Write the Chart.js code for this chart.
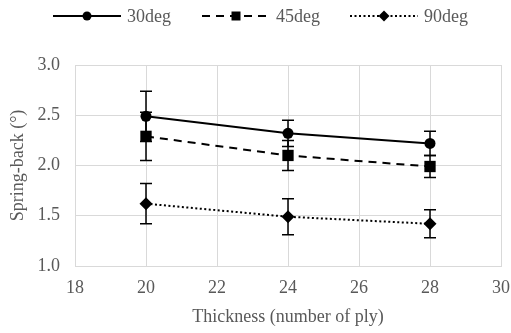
<!DOCTYPE html>
<html>
<head>
<meta charset="utf-8">
<script src="https://cdn.jsdelivr.net/npm/chart.js@4.4.0/dist/chart.umd.min.js"></script>
<style>
  html, body { margin: 0; padding: 0; background: #fff; }
  canvas { display: block; }
</style>
</head>
<body>
<canvas id="chart" width="511" height="333"></canvas>
<script>
// data
var thickness = [20, 24, 28];
var deg30 = [2.49, 2.32, 2.22];
var deg45 = [2.29, 2.10, 1.99];
var deg90 = [1.62, 1.49, 1.42];
var err30 = [0.25, 0.13, 0.12];
var err45 = [0.24, 0.15, 0.11];
var err90 = [0.20, 0.18, 0.14];
var seriesNames = ['30deg', '45deg', '90deg'];
var xTicks = [18, 20, 22, 24, 26, 28, 30];
var yTicks = [1.0, 1.5, 2.0, 2.5, 3.0];

var fontFamily = '"Liberation Serif", "Times New Roman", serif';
var textColor = '#595959';
var gridColor = '#d9d9d9';

function points(ys) {
    return thickness.map(function (x, i) { return { x: x, y: ys[i] }; });
}

var styles = [
    { dash: [], pointStyle: 'circle', radius: 5.5 },
    { dash: [8, 6], pointStyle: 'rect', radius: 8 },
    { dash: [2, 2.5], pointStyle: 'rectRot', radius: 6.5 }
];
var errors = [err30, err45, err90];

var datasets = [deg30, deg45, deg90].map(function (ys, i) {
    return {
        label: seriesNames[i],
        data: points(ys),
        borderColor: '#000',
        backgroundColor: '#000',
        borderWidth: 2,
        borderDash: styles[i].dash,
        pointStyle: styles[i].pointStyle,
        pointRadius: styles[i].radius,
        pointBorderWidth: 0,
        tension: 0,
        fill: false
    };
});

// error bars, drawn from the scales
var errorBars = {
    id: 'errorBars',
    beforeDatasetsDraw: function (chart) {
        var ctx = chart.ctx, xs = chart.scales.x, ys = chart.scales.y;
        ctx.save();
        ctx.strokeStyle = '#000';
        ctx.lineWidth = 1.5;
        ctx.setLineDash([]);
        chart.data.datasets.forEach(function (ds, i) {
            ds.data.forEach(function (p, j) {
                var e = errors[i][j];
                var px = xs.getPixelForValue(p.x);
                var top = ys.getPixelForValue(p.y + e);
                var bot = ys.getPixelForValue(p.y - e);
                ctx.beginPath();
                ctx.moveTo(px, top); ctx.lineTo(px, bot);
                ctx.moveTo(px - 6, top); ctx.lineTo(px + 6, top);
                ctx.moveTo(px - 6, bot); ctx.lineTo(px + 6, bot);
                ctx.stroke();
            });
        });
        ctx.restore();
    }
};

function marker(ctx, style, x, y, r) {
    ctx.beginPath();
    if (style === 'circle') {
        ctx.arc(x, y, r, 0, Math.PI * 2);
    } else if (style === 'rect') {
        ctx.rect(x - r, y - r, 2 * r, 2 * r);
    } else {
        ctx.moveTo(x - r, y); ctx.lineTo(x, y - r);
        ctx.lineTo(x + r, y); ctx.lineTo(x, y + r);
        ctx.closePath();
    }
    ctx.fill();
}

// legend: line + marker + label, like the original
var lineLegend = {
    id: 'lineLegend',
    afterDraw: function (chart) {
        var ctx = chart.ctx;
        var y = 16;
        var starts = [53, 202, 350];
        var legendMarks = [4.5, 4.5, 5.5];
        ctx.save();
        ctx.font = '18px ' + fontFamily;
        ctx.textBaseline = 'middle';
        ctx.fillStyle = '#000';
        ctx.strokeStyle = '#000';
        ctx.lineWidth = 2;
        seriesNames.forEach(function (name, i) {
            var x0 = starts[i], x1 = x0 + 68;
            ctx.setLineDash(styles[i].dash);
            ctx.beginPath();
            ctx.moveTo(x0, y); ctx.lineTo(x1, y);
            ctx.stroke();
            ctx.setLineDash([]);
            ctx.fillStyle = '#000';
            marker(ctx, styles[i].pointStyle, (x0 + x1) / 2, y, legendMarks[i]);
            ctx.fillStyle = textColor;
            ctx.fillText(name, x1 + 6, y + 1);
        });
        ctx.restore();
    }
};

new Chart(document.getElementById('chart').getContext('2d'), {
    type: 'line',
    data: { datasets: datasets },
    plugins: [errorBars, lineLegend],
    options: {
        responsive: false,
        animation: false,
        events: [],
        layout: { padding: { top: 65, right: 0, left: 0, bottom: 0 } },
        plugins: { legend: { display: false }, tooltip: { enabled: false } },
        scales: {
            x: {
                type: 'linear',
                min: xTicks[0],
                max: xTicks[xTicks.length - 1],
                afterBuildTicks: function (s) { s.ticks = xTicks.map(function (v) { return { value: v }; }); },
                afterFit: function (s) { s.height = 67; s.paddingRight = 10; s.paddingLeft = 0; },
                ticks: { color: textColor, font: { family: fontFamily, size: 18 }, padding: 11 },
                grid: { color: gridColor, drawTicks: false },
                border: { color: gridColor },
                title: {
                    display: true, text: 'Thickness (number of ply)', color: textColor,
                    font: { family: fontFamily, size: 18 }, padding: { top: 0, bottom: 5 }
                }
            },
            y: {
                min: yTicks[0],
                max: yTicks[yTicks.length - 1],
                afterBuildTicks: function (s) { s.ticks = yTicks.map(function (v) { return { value: v }; }); },
                afterFit: function (s) { s.width = 75; },
                ticks: {
                    color: textColor, font: { family: fontFamily, size: 18 }, padding: 15,
                    callback: function (v) { return Number(v).toFixed(1); }
                },
                grid: { color: gridColor, drawTicks: false },
                border: { color: gridColor },
                title: {
                    display: true, text: 'Spring-back (°)', color: textColor,
                    font: { family: fontFamily, size: 18 }, padding: { top: 7, bottom: 0 }
                }
            }
        }
    }
});
</script>
</body>
</html>
